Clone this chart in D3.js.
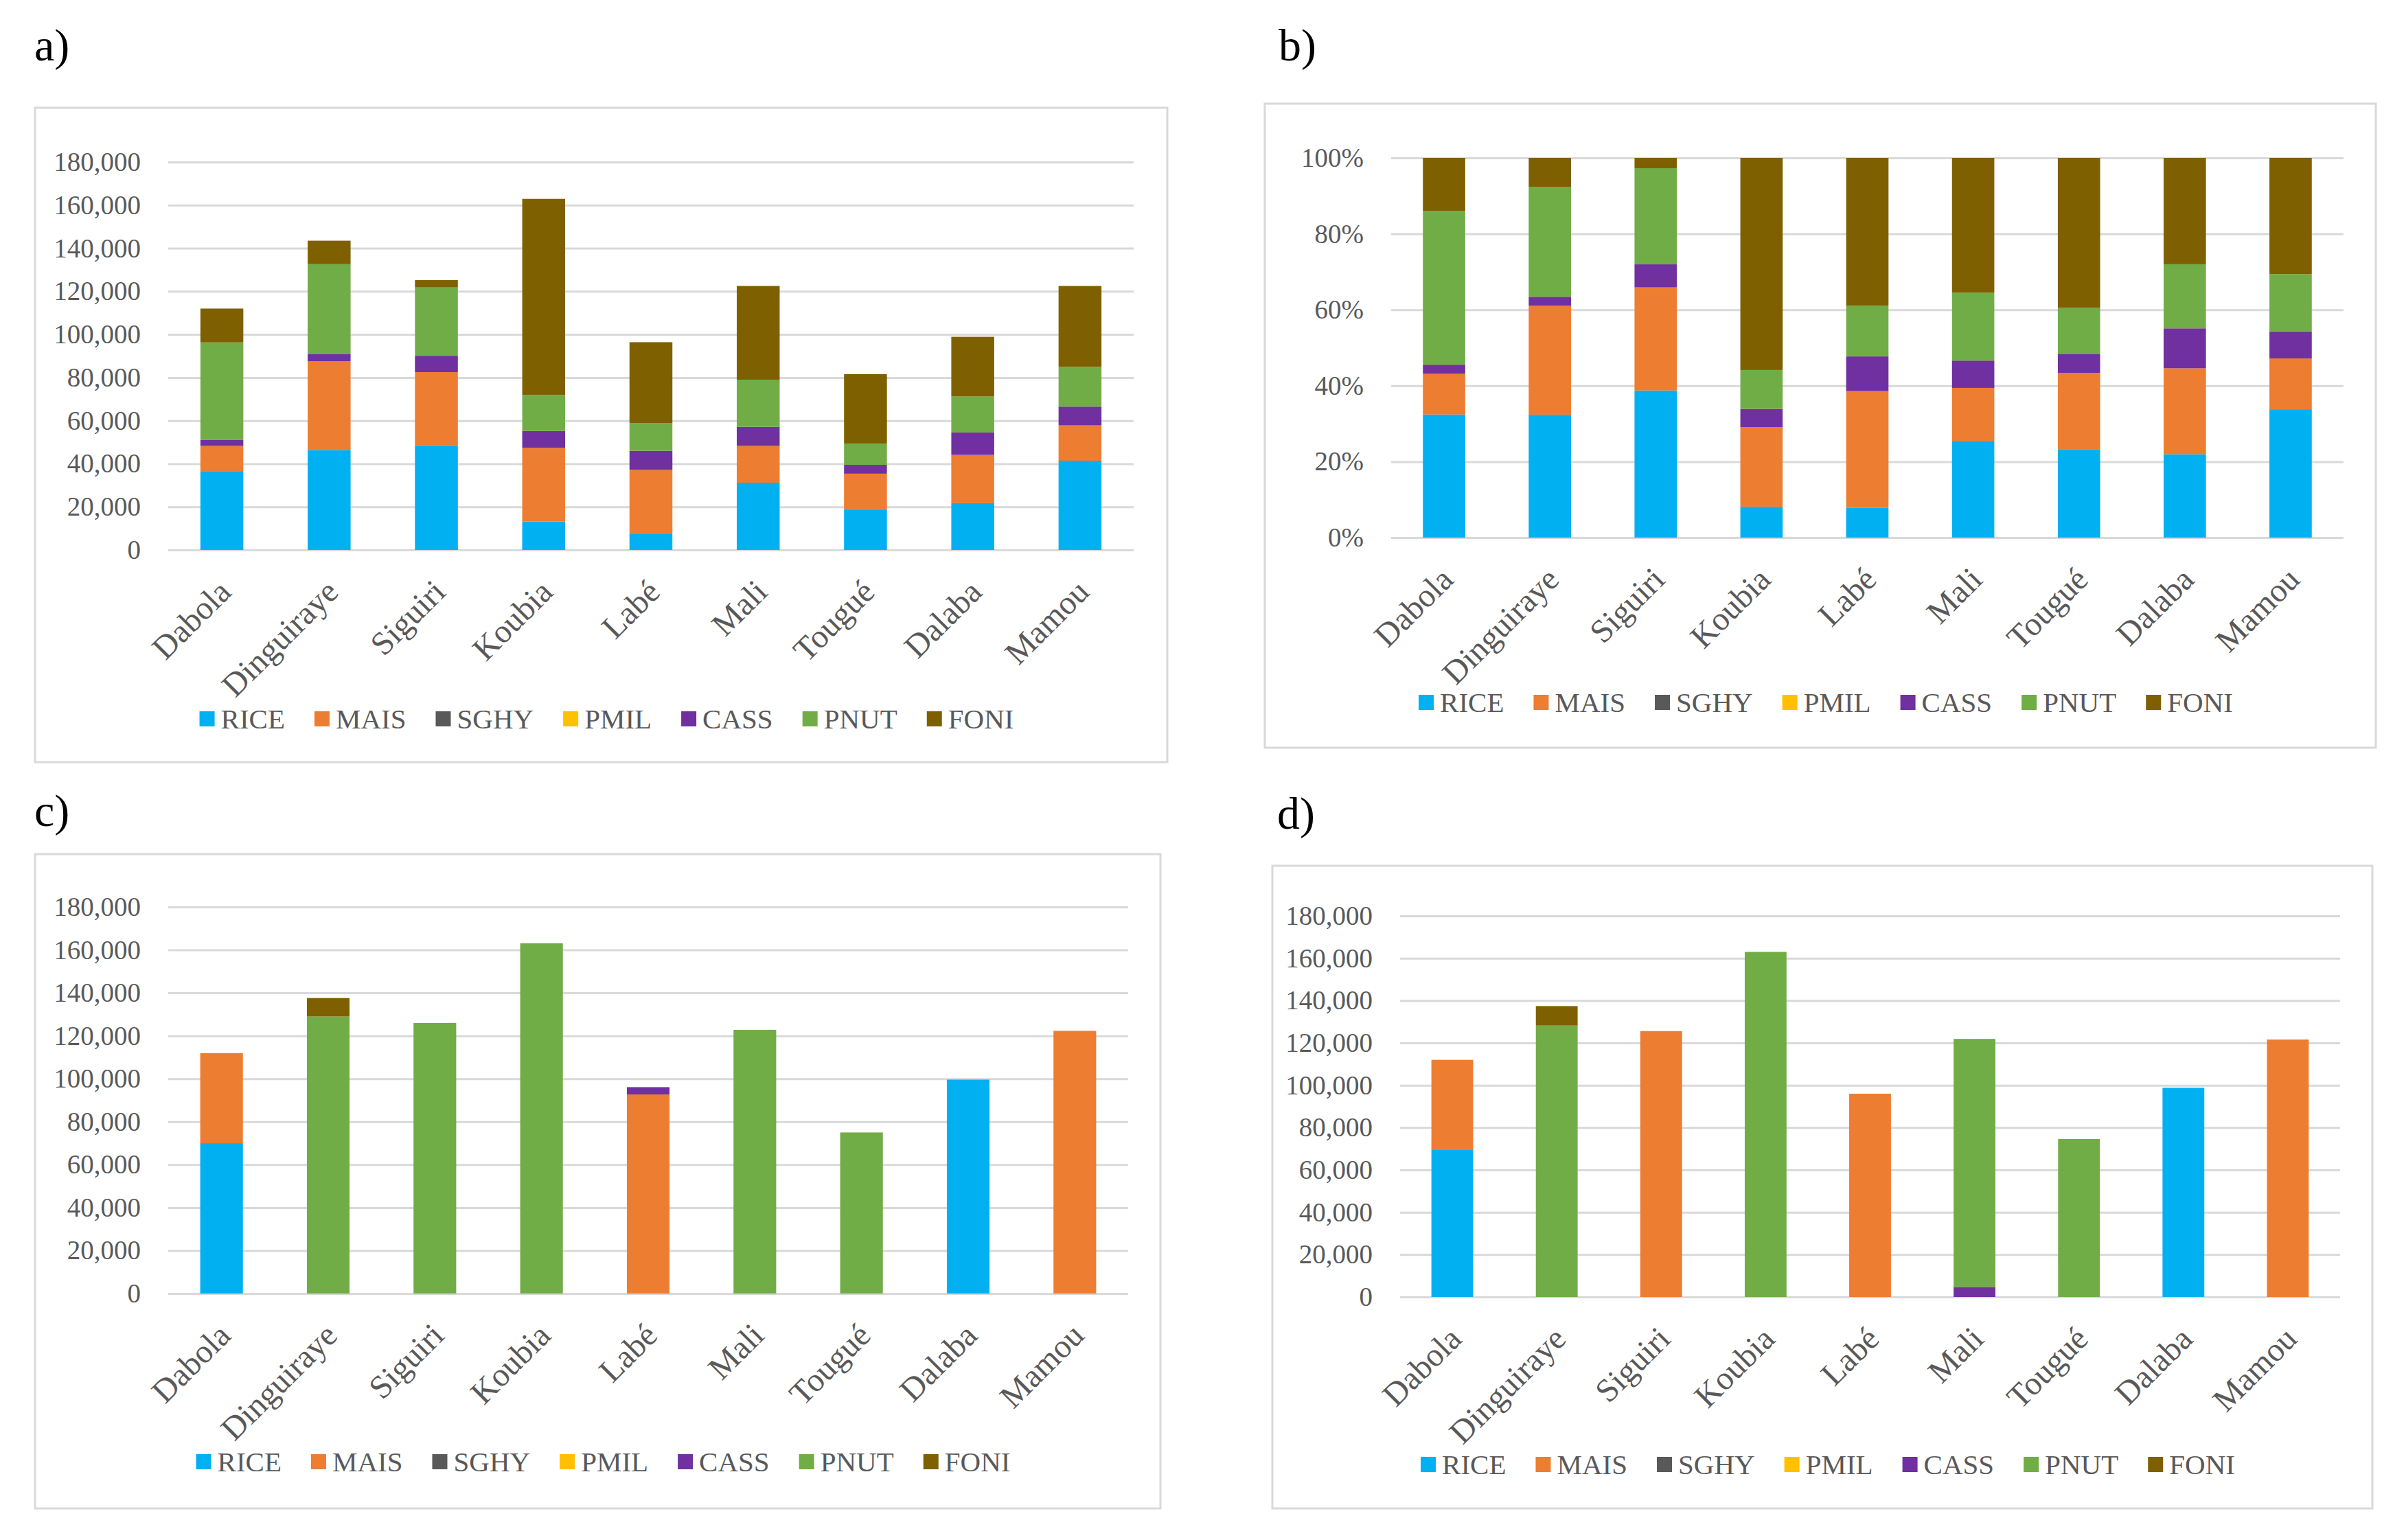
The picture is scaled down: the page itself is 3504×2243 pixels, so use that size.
<!DOCTYPE html>
<html lang="en">
<head>
<meta charset="UTF-8">
<title>Crop allocation by district</title>
<script src="https://d3js.org/d3.v7.min.js"></script>
<style>
    body { margin: 0; background: #fff; }
    text { font-family: "Liberation Serif", "Times New Roman", serif; }
    .tick text { fill: #595959; }
    .legend text { fill: #595959; }
</style>
</head>
<body>
<svg width="3504" height="2243"></svg>
<script>
    const districts = ["Dabola", "Dinguiraye", "Siguiri", "Koubia", "Labé", "Mali", "Tougué", "Dalaba", "Mamou"];
    const crops = ["RICE", "MAIS", "SGHY", "PMIL", "CASS", "PNUT", "FONI"];
    const cropColors = ["#00B0F0", "#ED7D31", "#595959", "#FFC000", "#7030A0", "#70AD47", "#7F6000"];
    const countTicks = [0, 20000, 40000, 60000, 80000, 100000, 120000, 140000, 160000, 180000];
    const shareTicks = [0, 0.2, 0.4, 0.6, 0.8, 1];

    // a) and b): same areas, b) shows them as shares
    const riceA = [36300, 46400, 48500, 13200, 7600, 31200, 18900, 21700, 41400];
    const maisA = [12000, 41200, 34000, 34200, 29600, 17100, 16500, 22400, 16400];
    const sghyA = [0, 0, 0, 0, 0, 0, 0, 0, 0];
    const pmilA = [0, 0, 0, 0, 0, 0, 0, 0, 0];
    const cassA = [2700, 3400, 7600, 7800, 8800, 8800, 4100, 10400, 8700];
    const pnutA = [45300, 41600, 31700, 16700, 12900, 21900, 9900, 16700, 18500];
    const foniA = [15700, 10900, 3400, 91000, 37500, 43500, 32200, 27700, 37500];

    // c)
    const riceC = [70000, 0, 0, 0, 0, 0, 0, 99600, 0];
    const maisC = [41900, 0, 0, 0, 92700, 0, 0, 0, 122300];
    const sghyC = [0, 0, 0, 0, 0, 0, 0, 0, 0];
    const pmilC = [0, 0, 0, 0, 0, 0, 0, 0, 0];
    const cassC = [0, 0, 0, 0, 3400, 0, 0, 0, 0];
    const pnutC = [0, 129000, 126000, 163100, 0, 122800, 75000, 0, 0];
    const foniC = [0, 8600, 0, 0, 0, 0, 0, 0, 0];

    // d)
    const riceD = [69400, 0, 0, 0, 0, 0, 0, 98800, 0];
    const maisD = [42600, 0, 125600, 0, 96000, 0, 0, 0, 121600];
    const sghyD = [0, 0, 0, 0, 0, 0, 0, 0, 0];
    const pmilD = [0, 0, 0, 0, 0, 0, 0, 0, 0];
    const cassD = [0, 0, 0, 0, 0, 4700, 0, 0, 0];
    const pnutD = [0, 128200, 0, 163000, 0, 117200, 74600, 0, 0];
    const foniD = [0, 9200, 0, 0, 0, 0, 0, 0, 0];

    const svg = d3.select("svg");
    svg.append("rect").attr("width", 3504).attr("height", 2243).attr("fill", "#fff");

    const color = d3.scaleOrdinal().domain(crops).range(cropColors);

    function rows(series) {
        return districts.map(function(d, i) {
            const r = { district: d };
            crops.forEach(function(c, j) { r[c] = series[j][i]; });
            return r;
        });
    }

    function drawPanel(p) {
        const g = svg.append("g");

        g.append("text")
            .attr("x", p.labelX).attr("y", p.labelY)
            .attr("font-size", 66).attr("fill", "#000")
            .text(p.label);

        g.append("rect")
            .attr("x", p.box[0]).attr("y", p.box[1])
            .attr("width", p.box[2] - p.box[0]).attr("height", p.box[3] - p.box[1])
            .attr("fill", "#fff").attr("stroke", "#d9d9d9").attr("stroke-width", 3);

        const x = d3.scaleBand().domain(districts).range([p.x0, p.x1]).paddingInner(0.6).paddingOuter(0.3);
        const y = d3.scaleLinear().domain([0, p.max]).range([p.yBottom, p.yTop]);

        const yAxis = g.append("g")
            .attr("transform", "translate(" + p.x0 + ",0)")
            .call(d3.axisLeft(y).tickValues(p.ticks).tickSize(-(p.x1 - p.x0)).tickPadding(40).tickFormat(p.fmt));
        yAxis.select(".domain").remove();
        yAxis.selectAll(".tick line").attr("stroke", "#d9d9d9").attr("stroke-width", 3);
        yAxis.selectAll(".tick text").attr("font-size", 39).attr("font-family", null);

        const stack = d3.stack().keys(crops).offset(p.expand ? d3.stackOffsetExpand : d3.stackOffsetNone);
        const layers = stack(rows(p.series));

        g.append("g").selectAll("g")
            .data(layers)
            .join("g")
            .attr("fill", function(d) { return color(d.key); })
            .selectAll("rect")
            .data(function(d) { return d; })
            .join("rect")
            .attr("x", function(d) { return x(d.data.district); })
            .attr("width", x.bandwidth())
            .attr("y", function(d) { return y(d[1]); })
            .attr("height", function(d) { return y(d[0]) - y(d[1]); });

        const xAxis = g.append("g")
            .attr("transform", "translate(0," + p.yBottom + ")")
            .call(d3.axisBottom(x).tickSize(0));
        xAxis.select(".domain").remove();
        xAxis.selectAll(".tick text")
            .attr("font-size", 48).attr("font-family", null)
            .attr("text-anchor", "end")
            .attr("x", 0).attr("y", 0).attr("dy", "0.35em")
            .attr("transform", "translate(4,52) rotate(-45)");

        // legend, centred in the box
        const legend = g.append("g").attr("class", "legend");
        const items = legend.selectAll("g").data(crops).join("g");
        items.append("rect").attr("width", 22).attr("height", 22).attr("y", -11)
            .attr("fill", function(d) { return color(d); });
        items.append("text").attr("x", 31).attr("dy", "0.35em").attr("font-size", 41)
            .text(function(d) { return d; });
        const gap = 43;
        let cx = 0;
        items.each(function() {
            const w = d3.select(this).select("text").node().getComputedTextLength();
            d3.select(this).attr("transform", "translate(" + cx + ",0)");
            cx += 31 + w + gap;
        });
        const total = cx - gap;
        const mid = (p.box[0] + p.box[2]) / 2 + 8;
        legend.attr("transform", "translate(" + (mid - total / 2) + "," + p.legendY + ")");
    }

    const countFmt = d3.format(",");
    const shareFmt = d3.format(".0%");

    drawPanel({
        label: "a)", labelX: 50, labelY: 88,
        box: [51, 157, 1700, 1110],
        x0: 245, x1: 1651, yTop: 236, yBottom: 801,
        max: 180000, ticks: countTicks, fmt: countFmt, expand: false,
        series: [riceA, maisA, sghyA, pmilA, cassA, pnutA, foniA],
        legendY: 1047
    });

    drawPanel({
        label: "b)", labelX: 1862, labelY: 88,
        box: [1842, 151, 3460, 1089],
        x0: 2026, x1: 3413, yTop: 230, yBottom: 783,
        max: 1, ticks: shareTicks, fmt: shareFmt, expand: true,
        series: [riceA, maisA, sghyA, pmilA, cassA, pnutA, foniA],
        legendY: 1023
    });

    drawPanel({
        label: "c)", labelX: 50, labelY: 1203,
        box: [51, 1244, 1690, 2197],
        x0: 245, x1: 1643, yTop: 1321, yBottom: 1884,
        max: 180000, ticks: countTicks, fmt: countFmt, expand: false,
        series: [riceC, maisC, sghyC, pmilC, cassC, pnutC, foniC],
        legendY: 2129
    });

    drawPanel({
        label: "d)", labelX: 1860, labelY: 1207,
        box: [1853, 1261, 3455, 2197],
        x0: 2039, x1: 3408, yTop: 1334, yBottom: 1889,
        max: 180000, ticks: countTicks, fmt: countFmt, expand: false,
        series: [riceD, maisD, sghyD, pmilD, cassD, pnutD, foniD],
        legendY: 2133
    });
</script>
</body>
</html>
